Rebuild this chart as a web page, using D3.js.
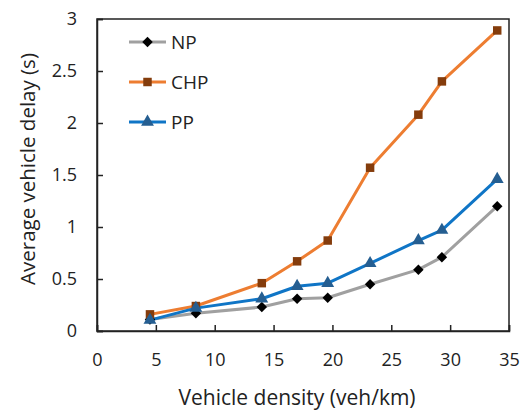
<!DOCTYPE html>
<html><head><meta charset="utf-8">
<script src="https://cdn.jsdelivr.net/npm/d3@7"></script>
<style>body{margin:0;background:#fff}svg{display:block}text{font-family:"Open Sans",sans-serif;fill:#222}</style>
</head><body><svg id="c" width="524" height="414"></svg>
<script>
const density = [4.5, 8.4, 14, 17, 19.6, 23.2, 27.3, 29.3, 34];
const npDelay = [0.11, 0.17, 0.23, 0.31, 0.32, 0.45, 0.59, 0.71, 1.20];
const chpDelay = [0.16, 0.24, 0.46, 0.67, 0.87, 1.57, 2.08, 2.40, 2.89];
const ppDelay = [0.105, 0.22, 0.31, 0.43, 0.46, 0.65, 0.87, 0.97, 1.46];
const seriesNames = ["NP", "CHP", "PP"];
const xTicks = [0, 5, 10, 15, 20, 25, 30, 35];
const yTicks = [0, 0.5, 1, 1.5, 2, 2.5, 3];

// diamond as a square rotated 45 degrees
const squareDiamond = {
  draw(ctx, size) {
    const r = Math.sqrt(size / 2);
    ctx.moveTo(0, -r); ctx.lineTo(r, 0); ctx.lineTo(0, r); ctx.lineTo(-r, 0); ctx.closePath();
  }
};

const series = [
  {name: seriesNames[0], values: npDelay, line: "#a0a0a0", fill: "#000000", shape: squareDiamond, size: 55},
  {name: seriesNames[1], values: chpDelay, line: "#ED7D31", fill: "#843C0C", shape: d3.symbolSquare, size: 72},
  {name: seriesNames[2], values: ppDelay, line: "#0F75C6", fill: "#255E91", shape: d3.symbolTriangle, size: 72}
];

const svg = d3.select("#c");
const L = 97, R = 509, T = 19, B = 331;
const x = d3.scaleLinear().domain([0, 35]).range([L, R]);
const y = d3.scaleLinear().domain([0, 3]).range([B, T]);

svg.append("rect").attr("x", L).attr("y", T).attr("width", R - L).attr("height", B - T)
  .attr("fill", "none").attr("stroke", "#222").attr("stroke-width", 1.5);

const xAxis = svg.append("g").attr("transform", `translate(0,${B})`)
  .call(d3.axisBottom(x).tickValues(xTicks).tickSize(-6).tickPadding(22).tickFormat(d3.format("d")));
const yAxis = svg.append("g").attr("transform", `translate(${L},0)`)
  .call(d3.axisLeft(y).tickValues(yTicks).tickSize(-6).tickPadding(20).tickFormat(d => String(d)));
[xAxis, yAxis].forEach(g => {
  g.select(".domain").attr("stroke", "#222").attr("stroke-width", 1.5);
  g.selectAll(".tick line").attr("stroke", "#222").attr("stroke-width", 1.5);
  g.selectAll(".tick text").style("font-size", "18px").attr("fill", "#222");
});

const line = d3.line().x((d, i) => x(density[i])).y(d => y(d));
series.forEach(s => {
  svg.append("path").datum(s.values).attr("d", line).attr("fill", "none")
    .attr("stroke", s.line).attr("stroke-width", 3).attr("stroke-linejoin", "round");
});
series.forEach(s => {
  svg.selectAll(null).data(s.values).enter().append("path")
    .attr("d", d3.symbol().type(s.shape).size(s.size))
    .attr("transform", (d, i) => `translate(${x(density[i])},${y(d)})`)
    .attr("fill", s.fill);
});

const lg = svg.append("g");
series.forEach((s, i) => {
  const ly = 42 + i * 40;
  lg.append("line").attr("x1", 129).attr("x2", 166).attr("y1", ly).attr("y2", ly)
    .attr("stroke", s.line).attr("stroke-width", 3);
  lg.append("path").attr("d", d3.symbol().type(s.shape).size(s.size))
    .attr("transform", `translate(147.5,${ly})`).attr("fill", s.fill);
  lg.append("text").attr("x", 171).attr("y", ly).attr("dy", "0.35em")
    .style("font-size", "19px").text(s.name);
});

svg.append("text").attr("x", 297).attr("y", 398).attr("dy", "0.35em").attr("text-anchor", "middle")
  .style("font-size", "21px").text("Vehicle density (veh/km)");
svg.append("text").attr("transform", "translate(28,169) rotate(-90)").attr("dy", "0.35em")
  .attr("text-anchor", "middle").style("font-size", "20.5px").text("Average vehicle delay (s)");
</script></body></html>
